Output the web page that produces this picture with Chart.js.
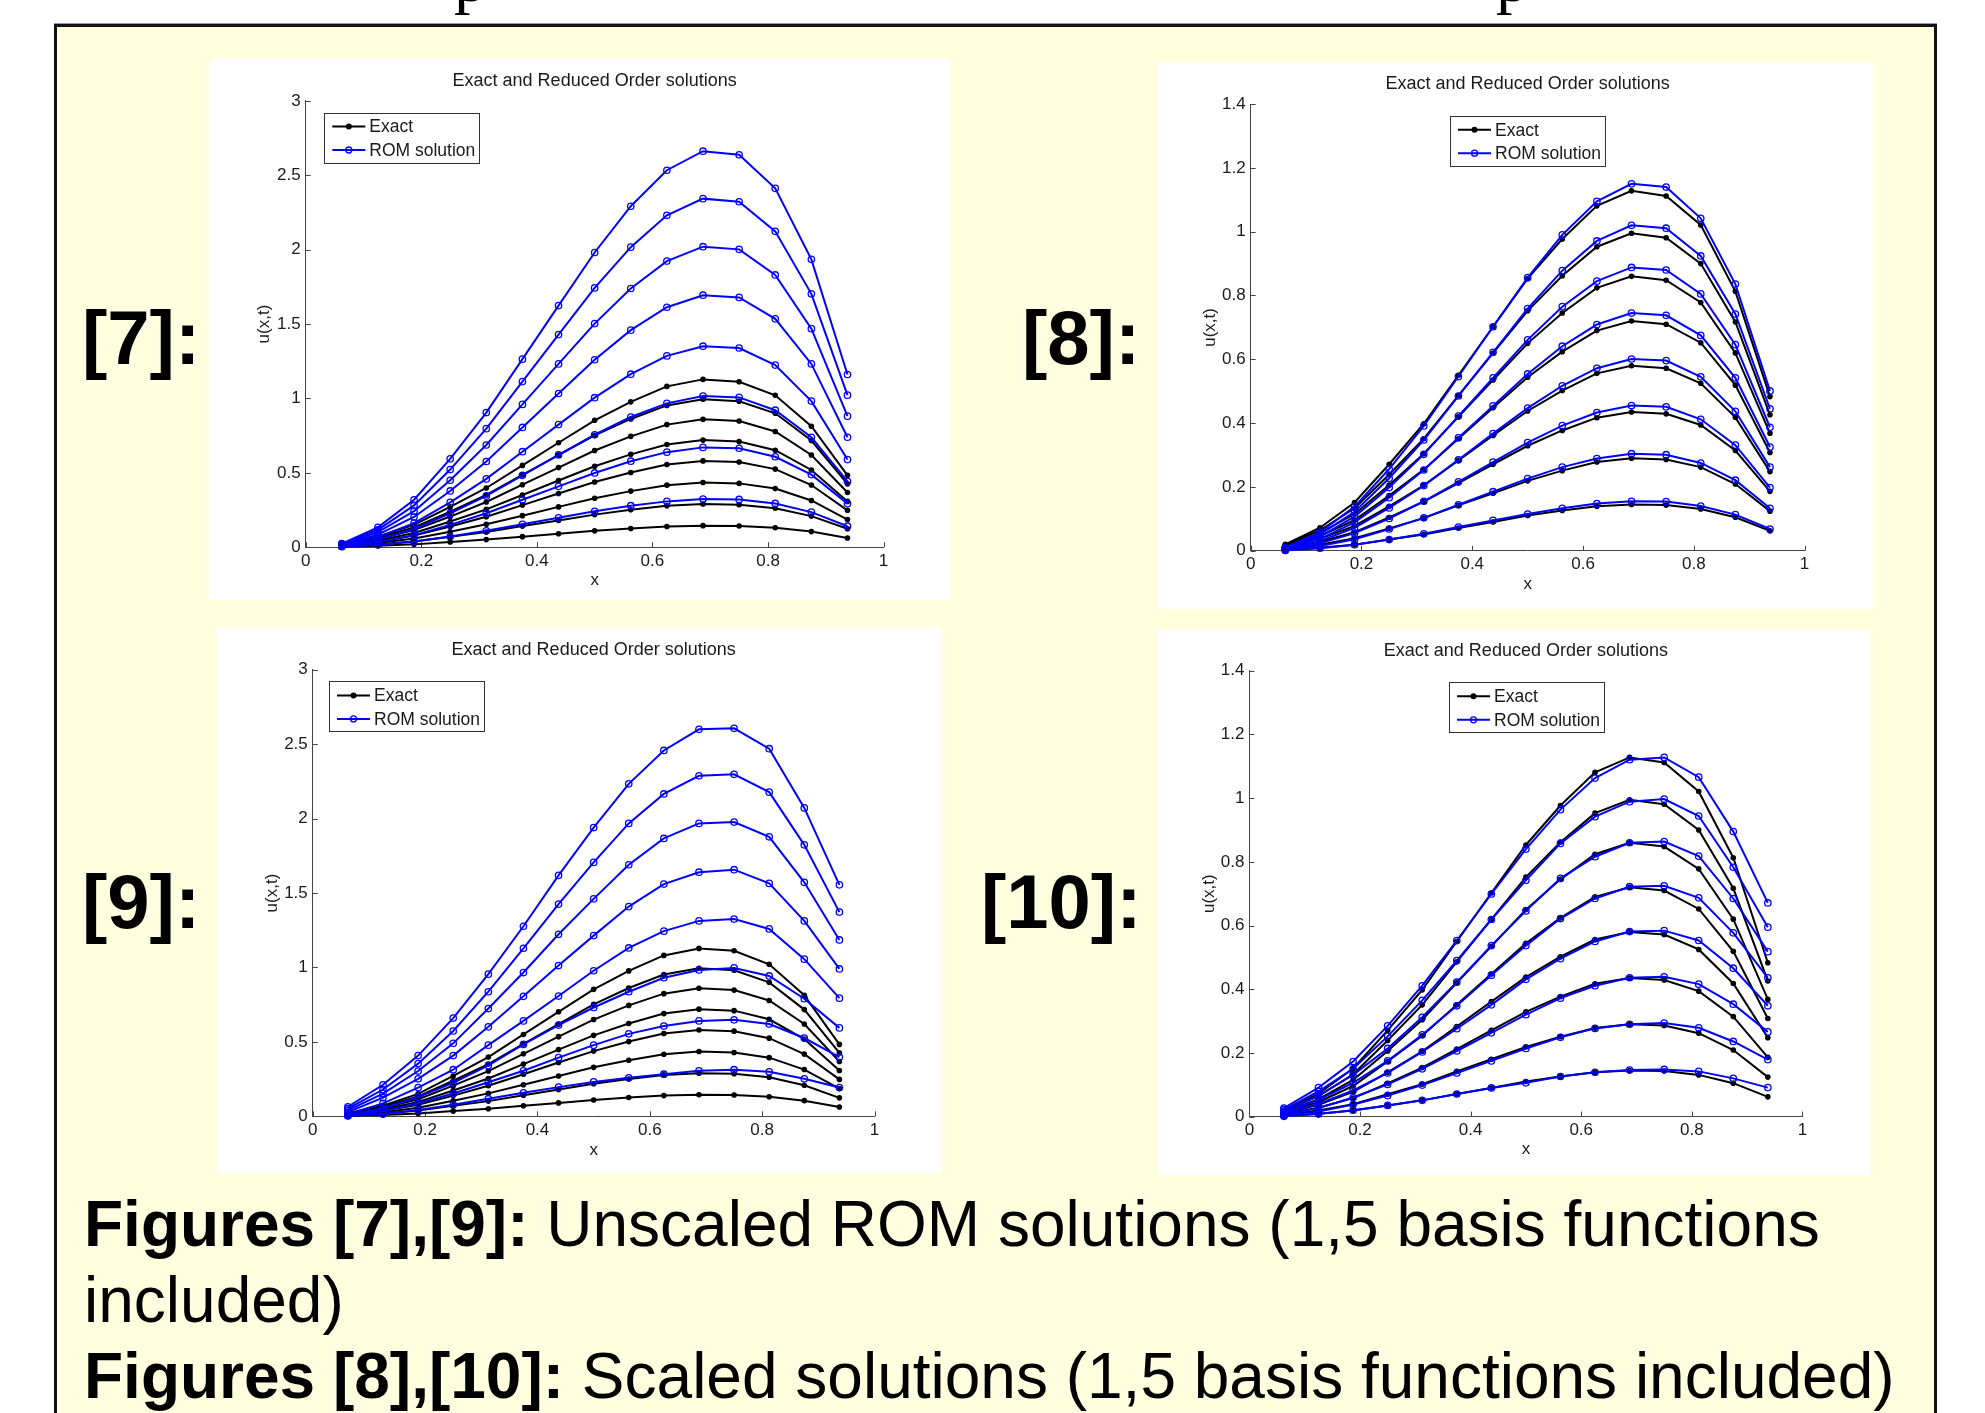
<!DOCTYPE html>
<html>
<head>
<meta charset="utf-8">
<script src="https://cdn.jsdelivr.net/npm/chart.js@4.4.1/dist/chart.umd.min.js"></script>
<style>
body{margin:0;width:1985px;height:1413px;background:#fff;overflow:hidden;position:relative;font-family:"Liberation Sans",Arial,sans-serif}
#frame{position:absolute;left:54px;top:24px;width:1877px;height:1420px;background:#ffffe0;border:3px solid #111;box-shadow:0 -1px 0 #999}
canvas{position:absolute;background:#fff}
.tag{position:absolute;font-weight:bold;font-size:76px;line-height:76px;color:#000;white-space:nowrap}
#caption{position:absolute;left:84px;top:1186px;font-size:64px;line-height:76px;white-space:nowrap;color:#000}
.cut{position:absolute;top:0;height:17px;width:40px;overflow:hidden}
.cut span{position:absolute;left:0;top:-54px;font-family:"Liberation Serif",serif;font-size:66px;line-height:66px}
</style>
</head>
<body>
<div class="cut" style="left:454px"><span>p</span></div>
<div class="cut" style="left:1496px"><span>p</span></div>
<div id="frame"></div>

<canvas id="fig7" width="741" height="541" style="left:209px;top:59px"></canvas>
<canvas id="fig8" width="715" height="547" style="left:1158px;top:62px"></canvas>
<canvas id="fig9" width="723" height="545" style="left:218px;top:628px"></canvas>
<canvas id="fig10" width="712" height="545" style="left:1158px;top:630px"></canvas>

<div class="tag" style="left:82px;top:300px">[7]:</div>
<div class="tag" style="left:1022px;top:300px">[8]:</div>
<div class="tag" style="left:82px;top:864px">[9]:</div>
<div class="tag" style="left:981px;top:864px">[10]:</div>

<div id="caption"><b>Figures [7],[9]:</b> Unscaled ROM solutions (1,5 basis functions<br>included)<br><b>Figures [8],[10]:</b> Scaled solutions (1,5 basis functions included)</div>

<script>
// grid points and ticks
var xGrid = [0.0625, 0.125, 0.1875, 0.25, 0.3125, 0.375, 0.4375, 0.5, 0.5625, 0.625, 0.6875, 0.75, 0.8125, 0.875, 0.9375];
var xTicks = [0, 0.2, 0.4, 0.6, 0.8, 1];
var xTickLabels = ['0', '0.2', '0.4', '0.6', '0.8', '1'];
var yTicksUnscaled = [0, 0.5, 1, 1.5, 2, 2.5, 3];
var yTickLabelsUnscaled = ['0', '0.5', '1', '1.5', '2', '2.5', '3'];
var yTicksScaled = [0, 0.2, 0.4, 0.6, 0.8, 1, 1.2, 1.4];
var yTickLabelsScaled = ['0', '0.2', '0.4', '0.6', '0.8', '1', '1.2', '1.4'];
var legendLabels = ['Exact', 'ROM solution'];
var titleText = 'Exact and Reduced Order solutions';

// exact solution, same in all four figures
var exactCurves = [
    [0.003, 0.009, 0.019, 0.035, 0.051, 0.071, 0.090, 0.110, 0.126, 0.139, 0.145, 0.143, 0.131, 0.105, 0.062],
    [0.005, 0.019, 0.039, 0.070, 0.102, 0.142, 0.180, 0.219, 0.251, 0.278, 0.290, 0.286, 0.262, 0.209, 0.124],
    [0.008, 0.028, 0.058, 0.104, 0.154, 0.212, 0.271, 0.329, 0.377, 0.417, 0.435, 0.429, 0.394, 0.314, 0.186],
    [0.010, 0.037, 0.078, 0.139, 0.205, 0.283, 0.361, 0.438, 0.502, 0.556, 0.580, 0.572, 0.525, 0.418, 0.248],
    [0.013, 0.046, 0.096, 0.173, 0.254, 0.351, 0.448, 0.544, 0.624, 0.690, 0.720, 0.710, 0.652, 0.519, 0.308],
    [0.015, 0.055, 0.115, 0.206, 0.304, 0.420, 0.535, 0.650, 0.745, 0.824, 0.860, 0.848, 0.778, 0.620, 0.368],
    [0.018, 0.064, 0.133, 0.239, 0.351, 0.486, 0.619, 0.752, 0.862, 0.953, 0.995, 0.981, 0.900, 0.717, 0.426],
    [0.020, 0.072, 0.151, 0.271, 0.398, 0.550, 0.702, 0.853, 0.977, 1.081, 1.128, 1.112, 1.021, 0.813, 0.483]
];

// [7] unscaled ROM, 1 basis function
var romFig7 = [
    [0.024, 0.133, 0.319, 0.594, 0.905, 1.264, 1.624, 1.981, 2.292, 2.534, 2.662, 2.638, 2.412, 1.935, 1.161],
    [0.021, 0.117, 0.281, 0.522, 0.797, 1.113, 1.429, 1.743, 2.017, 2.231, 2.343, 2.322, 2.123, 1.703, 1.022],
    [0.018, 0.101, 0.242, 0.450, 0.687, 0.960, 1.232, 1.503, 1.739, 1.923, 2.020, 2.002, 1.830, 1.469, 0.881],
    [0.015, 0.085, 0.203, 0.378, 0.576, 0.805, 1.033, 1.260, 1.459, 1.613, 1.694, 1.679, 1.535, 1.232, 0.739],
    [0.012, 0.068, 0.162, 0.301, 0.459, 0.642, 0.824, 1.005, 1.163, 1.286, 1.351, 1.339, 1.224, 0.982, 0.589],
    [0.009, 0.051, 0.122, 0.227, 0.345, 0.483, 0.620, 0.756, 0.875, 0.967, 1.016, 1.007, 0.921, 0.739, 0.443],
    [0.006, 0.034, 0.081, 0.150, 0.228, 0.319, 0.409, 0.499, 0.578, 0.639, 0.671, 0.665, 0.608, 0.488, 0.293],
    [0.003, 0.016, 0.039, 0.072, 0.110, 0.154, 0.198, 0.241, 0.279, 0.308, 0.324, 0.321, 0.294, 0.236, 0.141]
];

// [8] scaled ROM, 1 basis function
var romFig8 = [
    [0.010, 0.058, 0.138, 0.256, 0.391, 0.546, 0.702, 0.856, 0.990, 1.095, 1.150, 1.140, 1.042, 0.836, 0.501],
    [0.009, 0.051, 0.122, 0.227, 0.347, 0.485, 0.622, 0.759, 0.878, 0.971, 1.020, 1.011, 0.924, 0.742, 0.445],
    [0.008, 0.044, 0.107, 0.198, 0.302, 0.422, 0.542, 0.661, 0.765, 0.845, 0.888, 0.880, 0.805, 0.646, 0.387],
    [0.007, 0.037, 0.089, 0.166, 0.253, 0.354, 0.454, 0.554, 0.641, 0.709, 0.745, 0.738, 0.675, 0.542, 0.325],
    [0.005, 0.030, 0.072, 0.134, 0.204, 0.285, 0.367, 0.447, 0.517, 0.572, 0.601, 0.596, 0.545, 0.437, 0.262],
    [0.004, 0.023, 0.055, 0.101, 0.155, 0.216, 0.278, 0.339, 0.392, 0.433, 0.455, 0.451, 0.412, 0.331, 0.198],
    [0.003, 0.015, 0.036, 0.068, 0.103, 0.144, 0.185, 0.226, 0.262, 0.289, 0.304, 0.301, 0.275, 0.221, 0.133],
    [0.001, 0.008, 0.019, 0.035, 0.053, 0.074, 0.095, 0.115, 0.133, 0.148, 0.155, 0.154, 0.140, 0.113, 0.068]
];

// [9] unscaled ROM, 5 basis functions
var romFig9 = [
    [0.064, 0.212, 0.408, 0.660, 0.955, 1.277, 1.619, 1.940, 2.234, 2.458, 2.600, 2.607, 2.470, 2.072, 1.555],
    [0.052, 0.180, 0.354, 0.573, 0.837, 1.129, 1.426, 1.706, 1.968, 2.166, 2.288, 2.298, 2.178, 1.824, 1.372],
    [0.040, 0.153, 0.304, 0.490, 0.724, 0.966, 1.223, 1.461, 1.690, 1.867, 1.968, 1.977, 1.878, 1.572, 1.185],
    [0.028, 0.125, 0.252, 0.408, 0.601, 0.806, 1.013, 1.214, 1.409, 1.560, 1.640, 1.657, 1.565, 1.313, 0.990],
    [0.016, 0.087, 0.193, 0.313, 0.478, 0.641, 0.808, 0.978, 1.131, 1.244, 1.313, 1.325, 1.259, 1.056, 0.794],
    [0.007, 0.054, 0.130, 0.224, 0.342, 0.483, 0.613, 0.731, 0.837, 0.931, 0.983, 0.997, 0.943, 0.790, 0.594],
    [0.005, 0.035, 0.087, 0.153, 0.229, 0.306, 0.394, 0.478, 0.554, 0.606, 0.641, 0.648, 0.620, 0.526, 0.398],
    [0.002, 0.016, 0.042, 0.078, 0.118, 0.158, 0.196, 0.231, 0.259, 0.283, 0.306, 0.313, 0.299, 0.252, 0.193]
];

// [10] scaled ROM, 5 basis functions
var romFig10 = [
    [0.027, 0.091, 0.173, 0.285, 0.411, 0.553, 0.699, 0.840, 0.964, 1.063, 1.121, 1.128, 1.066, 0.895, 0.671],
    [0.022, 0.079, 0.150, 0.252, 0.365, 0.490, 0.619, 0.742, 0.858, 0.942, 0.989, 0.997, 0.944, 0.783, 0.595],
    [0.016, 0.066, 0.131, 0.214, 0.312, 0.422, 0.537, 0.646, 0.748, 0.816, 0.860, 0.864, 0.818, 0.685, 0.518],
    [0.013, 0.053, 0.106, 0.175, 0.257, 0.348, 0.444, 0.537, 0.622, 0.685, 0.722, 0.725, 0.687, 0.577, 0.436],
    [0.010, 0.040, 0.082, 0.137, 0.203, 0.276, 0.351, 0.431, 0.496, 0.550, 0.581, 0.584, 0.553, 0.466, 0.348],
    [0.007, 0.027, 0.060, 0.101, 0.150, 0.206, 0.263, 0.320, 0.372, 0.411, 0.436, 0.439, 0.416, 0.353, 0.266],
    [0.004, 0.016, 0.038, 0.066, 0.099, 0.137, 0.175, 0.214, 0.249, 0.277, 0.290, 0.294, 0.279, 0.236, 0.179],
    [0.001, 0.008, 0.020, 0.035, 0.051, 0.071, 0.090, 0.106, 0.126, 0.139, 0.146, 0.148, 0.142, 0.120, 0.091]
];

Chart.defaults.font.family = '"Liberation Sans", Arial, sans-serif';
Chart.defaults.font.size = 17;
Chart.defaults.color = '#1a1a1a';

// matlab style ticks pointing into the axes
var inwardTicks = {
    id: 'inwardTicks',
    beforeDatasetsDraw: function(chart) {
        var ctx = chart.ctx, a = chart.chartArea;
        var xs = chart.scales.x, ys = chart.scales.y;
        ctx.save();
        ctx.strokeStyle = '#444';
        ctx.lineWidth = 1;
        ctx.beginPath();
        xs.ticks.forEach(function(t) {
            var px = Math.round(xs.getPixelForValue(t.value)) + 0.5;
            ctx.moveTo(px, a.bottom);
            ctx.lineTo(px, a.bottom - 5);
        });
        ys.ticks.forEach(function(t) {
            var py = Math.round(ys.getPixelForValue(t.value)) + 0.5;
            ctx.moveTo(a.left, py);
            ctx.lineTo(a.left + 5, py);
        });
        ctx.stroke();
        ctx.restore();
    }
};

// boxed legend like the matlab one
var matLegend = {
    id: 'matLegend',
    afterDraw: function(chart, args, opts) {
        var ctx = chart.ctx, x = opts.x, y = opts.y, w = 155, h = 50;
        ctx.save();
        ctx.fillStyle = '#fff';
        ctx.fillRect(x, y, w, h);
        ctx.strokeStyle = '#333';
        ctx.lineWidth = 1;
        ctx.strokeRect(Math.round(x) + 0.5, Math.round(y) + 0.5, w, h);
        var rows = [{c: '#000', fill: true}, {c: '#0000ff', fill: false}];
        rows.forEach(function(r, i) {
            var yy = y + 14 + i * 23.5;
            ctx.strokeStyle = r.c;
            ctx.lineWidth = 2;
            ctx.beginPath();
            ctx.moveTo(x + 8, yy);
            ctx.lineTo(x + 41, yy);
            ctx.stroke();
            ctx.beginPath();
            ctx.arc(x + 24.5, yy, 3, 0, Math.PI * 2);
            if (r.fill) { ctx.fillStyle = r.c; ctx.fill(); }
            else { ctx.lineWidth = 1.3; ctx.stroke(); }
            ctx.fillStyle = '#1a1a1a';
            ctx.font = '17.5px "Liberation Sans", Arial, sans-serif';
            ctx.textBaseline = 'middle';
            ctx.textAlign = 'left';
            ctx.fillText(legendLabels[i], x + 45, yy + 1);
        });
        ctx.restore();
    }
};

function toPoints(vals) {
    return vals.map(function(v, i) { return {x: xGrid[i], y: v}; });
}

function makeChart(id, rom, yTicks, yLabels, lay) {
    var datasets = [];
    rom.forEach(function(c) {
        datasets.push({data: toPoints(c), borderColor: '#0000ff', borderWidth: 2,
            pointRadius: 3.2, pointBorderWidth: 1.3, pointBorderColor: '#0000ff',
            pointBackgroundColor: 'rgba(0,0,0,0)', tension: 0, clip: false});
    });
    exactCurves.forEach(function(c) {
        datasets.push({data: toPoints(c), borderColor: '#000', borderWidth: 2,
            pointRadius: 2.8, pointBorderWidth: 0, pointBackgroundColor: '#000',
            tension: 0, clip: false});
    });
    return new Chart(document.getElementById(id), {
        type: 'line',
        data: {datasets: datasets},
        plugins: [inwardTicks, matLegend],
        options: {
            responsive: false,
            animation: false,
            events: [],
            layout: {padding: {left: 30, right: lay.pr, top: 0, bottom: 0}},
            plugins: {
                legend: {display: false},
                tooltip: {enabled: false},
                title: {display: true, text: titleText, fullSize: false, color: '#1a1a1a',
                    font: {size: 18, weight: 'normal'}, padding: {top: lay.tTop - 0.6, bottom: lay.tBot - 0.6}},
                matLegend: {x: lay.lx, y: lay.ly}
            },
            scales: {
                x: {
                    type: 'linear', min: 0, max: 1,
                    afterBuildTicks: function(s) { s.ticks = xTicks.map(function(v) { return {value: v}; }); },
                    afterFit: function(s) { s.height = lay.xH; },
                    ticks: {padding: 3.6, autoSkip: false, maxRotation: 0,
                        callback: function(v, i) { return xTickLabels[i]; }},
                    grid: {display: false, drawTicks: false},
                    border: {display: true, color: '#444', width: 1},
                    title: {display: true, text: 'x', padding: {top: 0, bottom: lay.xtPad}}
                },
                y: {
                    type: 'linear', min: 0, max: yTicks[yTicks.length - 1],
                    afterBuildTicks: function(s) { s.ticks = yTicks.map(function(v) { return {value: v}; }); },
                    afterFit: function(s) { s.width = lay.yW; },
                    ticks: {padding: 5, autoSkip: false,
                        callback: function(v, i) { return yLabels[i]; }},
                    grid: {display: false, drawTicks: false},
                    border: {display: true, color: '#444', width: 1},
                    title: {display: true, text: 'u(x,t)', padding: {top: lay.ytPad, bottom: 0}}
                }
            }
        }
    });
}

makeChart('fig7', romFig7, yTicksUnscaled, yTickLabelsUnscaled,
    {pr: 66.4, yW: 66.7, xH: 52.8, tTop: 11.8, tBot: 9.7, xtPad: 9.3, ytPad: 14.8, lx: 115.3, ly: 53.5});
makeChart('fig8', romFig8, yTicksScaled, yTickLabelsScaled,
    {pr: 68.4, yW: 62.7, xH: 58.3, tTop: 11.8, tBot: 9.9, xtPad: 14, ytPad: 12.3, lx: 292, ly: 53.7});
makeChart('fig9', romFig9, yTicksUnscaled, yTickLabelsUnscaled,
    {pr: 66.5, yW: 64.8, xH: 56.7, tTop: 11.8, tBot: 9.6, xtPad: 12.5, ytPad: 14.3, lx: 111, ly: 53.4});
makeChart('fig10', romFig10, yTicksScaled, yTickLabelsScaled,
    {pr: 67.6, yW: 61.4, xH: 58.4, tTop: 10.8, tBot: 9.6, xtPad: 15.1, ytPad: 10.7, lx: 291, ly: 52.3});
</script>
</body>
</html>
